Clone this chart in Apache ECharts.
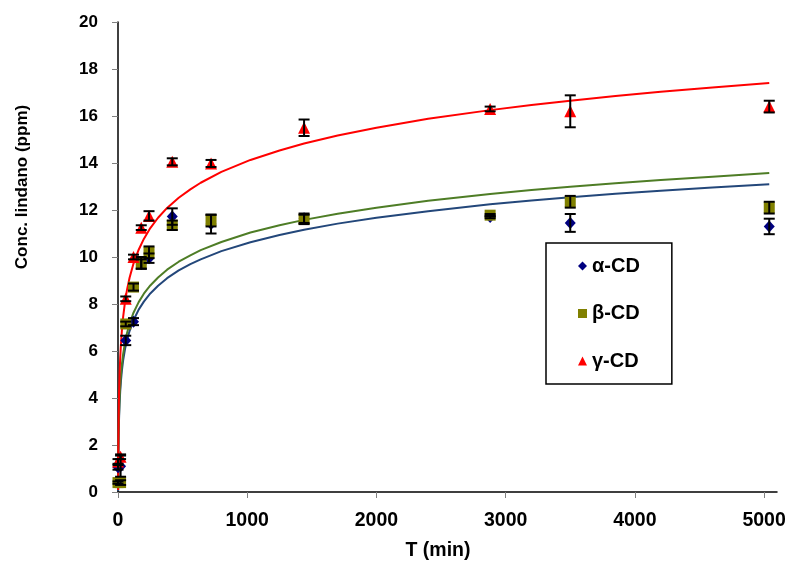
<!DOCTYPE html>
<html>
<head>
<meta charset="utf-8">
<script src="https://cdn.jsdelivr.net/npm/echarts@6/dist/echarts.min.js"></script>
<style>
  html, body { margin: 0; padding: 0; background: #fff; }
  #chart { width: 790px; height: 566px; }
</style>
</head>
<body>
<div id="chart"></div>
<script>
// Sampling times (min)
const times = [0, 20, 60, 120, 180, 240, 420, 720, 1440, 2880, 3500, 5040];

// Lindane concentration (ppm) and error half-widths for each cyclodextrin
const alphaCD  = [1.05, 1.1, 6.45, 7.25, 9.7, 9.95, 11.72, 11.4, 11.65, 11.7, 11.45, 11.3];
const alphaErr = [0.1, 0.45, 0.2, 0.15, 0.2, 0.2, 0.35, 0.4, 0.2, 0.05, 0.38, 0.33];
const betaCD   = [0.4, 0.4, 7.15, 8.72, 9.75, 10.2, 11.35, 11.55, 11.6, 11.78, 12.35, 12.1];
const betaErr  = [0.05, 0.1, 0.1, 0.15, 0.25, 0.25, 0.2, 0.25, 0.2, 0.05, 0.25, 0.25];
const gammaCD  = [1.3, 1.5, 8.22, 10.0, 11.25, 11.75, 14.05, 13.98, 15.5, 16.3, 16.2, 16.4];
const gammaErr = [0.1, 0.1, 0.1, 0.1, 0.1, 0.2, 0.15, 0.15, 0.35, 0.1, 0.68, 0.25];

// Logarithmic trend curves, sampled along time
const fitTimes = [1.1, 2, 3, 5, 8, 12, 17, 23, 30, 40, 55, 70, 90, 120, 160, 200, 250, 310, 380, 470, 560, 640, 800, 1025, 1250, 1440, 1700, 2000, 2400, 2880, 3200, 3500, 3850, 4200, 4600, 5040];
const fitAlpha = [0.04, 0.96, 1.59, 2.38, 3.11, 3.74, 4.28, 4.75, 5.16, 5.61, 6.10, 6.47, 6.86, 7.31, 7.76, 8.10, 8.45, 8.78, 9.10, 9.43, 9.70, 9.90, 10.25, 10.63, 10.94, 11.16, 11.42, 11.67, 11.95, 12.24, 12.40, 12.54, 12.69, 12.82, 12.96, 13.10];
const fitBeta  = [0.17, 1.12, 1.76, 2.57, 3.32, 3.96, 4.52, 5.00, 5.42, 5.88, 6.39, 6.77, 7.17, 7.63, 8.08, 8.44, 8.79, 9.13, 9.46, 9.80, 10.07, 10.29, 10.64, 11.04, 11.35, 11.58, 11.84, 12.10, 12.39, 12.68, 12.85, 12.99, 13.14, 13.28, 13.42, 13.57];
const fitGamma = [0.08, 1.31, 2.14, 3.19, 4.15, 4.99, 5.70, 6.32, 6.87, 7.46, 8.12, 8.61, 9.13, 9.72, 10.31, 10.77, 11.23, 11.67, 12.09, 12.52, 12.88, 13.16, 13.62, 14.13, 14.53, 14.83, 15.17, 15.50, 15.88, 16.25, 16.47, 16.65, 16.85, 17.03, 17.21, 17.40];

// Axis ticks
const xTicks = [0, 1000, 2000, 3000, 4000, 5000];
const yTicks = [0, 2, 4, 6, 8, 10, 12, 14, 16, 18, 20];

const FONT = '"Liberation Sans", Arial, sans-serif';

function pairs(xs, ys) { return xs.map((x, i) => [x, ys[i]]); }
function errRows(xs, ys, es) { return xs.map((x, i) => [x, ys[i], es[i]]); }

// Vertical error bar with end caps
function renderErrorBar(params, api) {
  const x = api.value(0), y = api.value(1), e = api.value(2);
  const top = api.coord([x, y + e]);
  const bot = api.coord([x, y - e]);
  const hw = 5.5;
  const style = { stroke: '#000', lineWidth: 2 };
  return {
    type: 'group',
    children: [
      { type: 'line', shape: { x1: top[0], y1: top[1], x2: bot[0], y2: bot[1] }, style },
      { type: 'line', shape: { x1: top[0] - hw, y1: top[1], x2: top[0] + hw, y2: top[1] }, style },
      { type: 'line', shape: { x1: bot[0] - hw, y1: bot[1], x2: bot[0] + hw, y2: bot[1] }, style }
    ]
  };
}

const chart = echarts.init(document.getElementById('chart'), null, { renderer: 'canvas' });

function fitLine(data, color) {
  return {
    type: 'line', data, showSymbol: false, symbol: 'none',
    smooth: false, z: 2,
    lineStyle: { color, width: 2 }, silent: true
  };
}
function points(name, data, symbol, size, color) {
  return {
    name, type: 'scatter', data, symbol, symbolSize: size, z: 3,
    itemStyle: { color, opacity: 1 }
  };
}
function bars(data) {
  return { type: 'custom', data, renderItem: renderErrorBar, z: 4, silent: true };
}

const labelBase = { color: '#000', fontFamily: FONT, fontWeight: 'bold', formatter: v => String(v) };

chart.setOption({
  animation: false,
  backgroundColor: '#fff',
  grid: { left: 118, right: 13, top: 22, bottom: 74 },
  xAxis: {
    type: 'value', min: 0, max: 5100,
    axisLine: { show: true, onZero: false, lineStyle: { color: '#000', width: 1.5 } },
    axisTick: { show: true, length: 6, customValues: xTicks, lineStyle: { color: '#808080', width: 1 } },
    axisLabel: Object.assign({ customValues: xTicks, margin: 19, fontSize: 19.5 }, labelBase),
    splitLine: { show: false }
  },
  yAxis: {
    type: 'value', min: 0, max: 20, interval: 2,
    axisLine: { show: true, onZero: false, lineStyle: { color: '#000', width: 1.5 } },
    axisTick: { show: true, length: 6, customValues: yTicks, lineStyle: { color: '#808080', width: 1 } },
    axisLabel: Object.assign({ customValues: yTicks, margin: 20, fontSize: 17 }, labelBase),
    splitLine: { show: false }
  },
  legend: {
    data: ['α-CD', 'β-CD', 'γ-CD'],
    orient: 'vertical', left: 546, top: 243,
    padding: [13, 32, 13, 32],
    itemGap: 27.5, itemWidth: 9, itemHeight: 9,
    borderColor: '#000', borderWidth: 1.5, backgroundColor: '#fff',
    textStyle: { color: '#000', fontFamily: FONT, fontWeight: 'bold', fontSize: 20, lineHeight: 20 }
  },
  graphic: [
    {
      type: 'text', x: 22, y: 187, rotation: Math.PI / 2,
      style: { text: 'Conc. lindano (ppm)', fill: '#000', font: 'bold 17px ' + FONT, textAlign: 'center', textVerticalAlign: 'middle' }
    },
    {
      type: 'text', x: 438, y: 551,
      style: { text: 'T (min)', fill: '#000', font: 'bold 19.5px ' + FONT, textAlign: 'center', textVerticalAlign: 'middle' }
    }
  ],
  series: [
    fitLine(pairs(fitTimes, fitAlpha), '#23477A'),
    fitLine(pairs(fitTimes, fitBeta), '#4E7D26'),
    fitLine(pairs(fitTimes, fitGamma), '#FF0000'),
    points('α-CD', pairs(times, alphaCD), 'diamond', [11, 12], '#000080'),
    points('β-CD', pairs(times, betaCD), 'rect', 11, '#808000'),
    points('γ-CD', pairs(times, gammaCD), 'triangle', 12, '#FF0000'),
    bars(errRows(times, alphaCD, alphaErr)),
    bars(errRows(times, betaCD, betaErr)),
    bars(errRows(times, gammaCD, gammaErr))
  ]
});
</script>
</body>
</html>
